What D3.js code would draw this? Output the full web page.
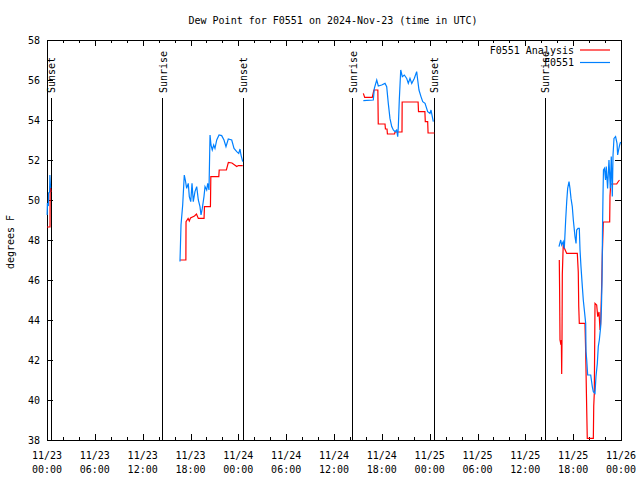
<!DOCTYPE html>
<html><head><meta charset="utf-8">
<script src="https://cdn.jsdelivr.net/npm/d3@7"></script>
<style>body{margin:0;background:#fff}svg text{font-family:"DejaVu Sans Mono",monospace;font-size:10px;fill:#000}</style>
</head><body><svg id="c" width="640" height="480"></svg>
<script>
const titleText = "Dew Point for F0551 on 2024-Nov-23 (time in UTC)";
const yLabel = "degrees F";
const seriesNames = ["F0551 Analysis", "F0551"];
const seriesColors = ["#ff0000", "#0080ff"];
// x tick labels every 6 hours (hours since 2024-11-23 00:00 UTC)
const xTickHours = [0,6,12,18,24,30,36,42,48,54,60,66,72];
const xTickDates = ["11/23","11/23","11/23","11/23","11/24","11/24","11/24","11/24","11/25","11/25","11/25","11/25","11/26"];
const xTickTimes = ["00:00","06:00","12:00","18:00","00:00","06:00","12:00","18:00","00:00","06:00","12:00","18:00","00:00"];
const yTicks = [38,40,42,44,46,48,50,52,54,56,58];
// sun events (hours)
const sunHours = [0.56, 14.55, 24.59, 38.38, 48.55, 62.47];
const sunNames = ["Sunset","Sunrise","Sunset","Sunrise","Sunset","Sunrise"];

// Analysis (red) : hours / values, null = gap
const anaHours = [0,0.38,0.4,0.5, null,
 16.68,17.42,17.44,17.7,17.85,18.0,18.5,18.75,18.98,19.7,19.75,20.5,20.55,21.55,21.6,22.5,22.75,23.2,23.8,24.0,24.55, null,
 39.68,39.85,40.8,41.0,41.5,41.55,42.4,42.45,42.65,42.7,43.6,43.65,44.53,44.55,46.55,46.6,47.4,47.45,47.75,47.8,48.6, null,
 64.26,64.3,64.35,64.47,64.52,64.56,64.6,64.64,64.76,64.89,65.19,66.52,66.64,66.7,66.77,67.48,67.57,67.7,67.77,68.53,68.58,68.65,68.74,68.95,69.08,69.24,69.37,69.45,69.58,69.65,69.78,70.58,70.62,70.71,71.46,71.62,71.81];
const anaValues = [48.65,48.65,50.7,50.4, null,
 47.0,47.0,48.92,49.08,48.95,49.1,49.2,49.3,49.08,49.08,49.67,49.67,51.17,51.17,51.5,51.5,51.88,51.85,51.67,51.72,51.72, null,
 55.33,55.13,55.13,55.5,55.5,53.8,53.8,53.55,53.55,53.3,53.3,53.4,53.4,54.9,54.9,54.42,54.42,53.92,53.92,53.35,53.35, null,
 47.0,45.5,43.0,42.75,43.0,41.3,43.0,46.3,47.83,47.6,47.33,47.33,46.4,44.67,43.83,43.83,42.4,39.5,38.08,38.08,39.7,40.33,44.83,44.75,44.17,44.4,43.5,43.83,45.8,47.17,48.9,48.9,50.2,50.8,50.8,50.9,51.0];

// Observations (blue)
const obsHours = [0.02,0.05,0.17,0.2,0.33,0.36,0.45, null,
 16.68,16.81,17.02,17.22,17.35,17.52,17.72,17.85,18.03,18.19,18.35,18.56,18.78,18.98,19.19,19.32,19.48,19.69,19.82,20.03,20.16,20.32,20.45,20.57,20.73,20.91,21.07,21.29,21.58,21.91,22.2,22.45,22.74,23.17,23.46,23.8,24.05,24.21,24.33,24.55, null,
 39.68,40.93,41.06,41.36,41.56,41.98,42.4,42.61,42.81,43.02,43.24,43.44,43.65,43.86,43.99,44.07,44.19,44.37,44.57,44.82,45.12,45.32,45.53,45.75,46.07,46.37,46.5,46.66,46.91,47.13,47.42,47.75,48.04,48.17,48.33,48.46, null,
 64.22,64.44,64.56,64.76,64.89,65.06,65.19,65.31,65.48,65.6,65.73,65.89,66.02,66.23,66.36,66.44,66.61,66.77,66.86,66.98,67.15,67.27,67.4,67.57,67.61,67.7,67.82,68.2,68.4,68.53,68.74,68.86,69.03,69.15,69.28,69.45,69.55,69.62,69.68,69.74,69.8,69.93,70.06,70.15,70.32,70.49,70.66,70.78,70.91,71.0,71.12,71.32,71.5,71.58,71.7,71.83,71.95];
const obsValues = [49.25,49.85,49.7,50.35,50.4,51.25,50.6, null,
 46.92,48.75,49.75,51.25,51.0,50.58,50.83,50.17,49.92,50.83,49.92,50.42,50.67,50.0,49.67,49.25,49.58,50.17,50.67,50.5,50.83,50.5,53.25,52.75,52.5,52.75,52.58,53.0,53.25,53.22,53.0,52.67,53.05,53.0,52.58,52.42,52.33,52.55,52.25,51.92, null,
 54.97,55.0,55.58,56.0,55.7,55.75,55.83,55.67,54.83,54.08,53.67,53.5,53.42,53.5,53.17,53.67,55.0,56.5,56.17,56.25,56.08,55.83,56.08,55.83,56.08,56.42,56.0,55.5,55.17,54.92,54.83,54.42,54.33,54.5,54.17,53.92, null,
 47.67,48.0,47.75,47.92,47.58,49.0,49.92,50.58,50.92,50.58,50.08,49.67,49.0,48.17,47.83,48.5,48.58,48.58,47.5,46.67,45.67,45.0,44.5,43.83,42.42,42.0,41.25,41.25,40.67,40.42,40.33,41.17,41.83,42.67,43.0,43.67,44.67,46.0,48.5,50.17,51.5,51.58,51.0,51.67,50.58,52.0,50.58,52.17,50.17,52.25,53.08,53.17,52.83,52.25,52.5,52.75,52.9];

const L = 47, R = 621, T = 40, B = 440;
const svg = d3.select("#c");
svg.append("rect").attr("width",640).attr("height",480).attr("fill","#fff");
const x = d3.scaleLinear().domain([0,72]).range([L,R]);
const y = d3.scaleLinear().domain([38,58]).range([B,T]);

// title
svg.append("text").attr("x",333).attr("y",24).attr("text-anchor","middle").text(titleText);
// y label
svg.append("text").attr("transform","translate(14,242) rotate(-90)").attr("text-anchor","middle").text(yLabel);

// axes ticks (inward, mirrored)
const minorHours = d3.range(0,73,2).filter(h => h % 6 !== 0);
const axB = d3.axisBottom(x).tickValues(xTickHours).tickSize(-6).tickFormat("");
const axT = d3.axisTop(x).tickValues(xTickHours).tickSize(-6).tickFormat("");
const axBm = d3.axisBottom(x).tickValues(minorHours).tickSize(-3).tickFormat("");
const axTm = d3.axisTop(x).tickValues(minorHours).tickSize(-3).tickFormat("");
const axL = d3.axisLeft(y).tickValues(yTicks).tickSize(-6).tickFormat("");
const axR = d3.axisRight(y).tickValues(yTicks).tickSize(-6).tickFormat("");
[[axB,`translate(0,${B})`],[axT,`translate(0,${T})`],[axBm,`translate(0,${B})`],[axTm,`translate(0,${T})`],[axL,`translate(${L},0)`],[axR,`translate(${R},0)`]].forEach(([a,t])=>{
  const g = svg.append("g").attr("transform",t).call(a);
  g.select(".domain").remove();
  g.selectAll("line").attr("stroke","#000").attr("shape-rendering","crispEdges");
});
svg.append("rect").attr("x",L).attr("y",T).attr("width",R-L).attr("height",B-T)
  .attr("fill","none").attr("stroke","#000").attr("shape-rendering","crispEdges");

// tick labels
const xl = svg.append("g");
xTickHours.forEach((h,i)=>{
  xl.append("text").attr("x",x(h)).attr("y",459).attr("text-anchor","middle").text(xTickDates[i]);
  xl.append("text").attr("x",x(h)).attr("y",473).attr("text-anchor","middle").text(xTickTimes[i]);
});
yTicks.forEach(v=>{
  svg.append("text").attr("x",40).attr("y",y(v)+3.5).attr("text-anchor","end").text(v);
});

// sun lines
sunHours.forEach((h,i)=>{
  svg.append("line").attr("x1",x(h)).attr("x2",x(h)).attr("y1",98).attr("y2",B)
    .attr("stroke","#000").attr("shape-rendering","crispEdges");
  svg.append("text").attr("transform",`translate(${x(h)+4},93) rotate(-90)`).text(sunNames[i]);
});

// series
const line = d3.line().defined(d=>d[1]!=null).x(d=>x(d[0])).y(d=>y(d[1]));
const ana = anaHours.map((h,i)=>[h,anaValues[i]]);
const obs = obsHours.map((h,i)=>[h,obsValues[i]]);
svg.append("path").datum(ana).attr("d",line).attr("fill","none").attr("stroke",seriesColors[0]).attr("stroke-width",1.2);
svg.append("path").datum(obs).attr("d",line).attr("fill","none").attr("stroke",seriesColors[1]).attr("stroke-width",1.2);

// legend
const legY = [50,62.5];
seriesNames.forEach((n,i)=>{
  svg.append("text").attr("x",574).attr("y",legY[i]+3.5).attr("text-anchor","end").text(n);
  svg.append("line").attr("x1",580).attr("x2",610).attr("y1",legY[i]).attr("y2",legY[i])
    .attr("stroke",seriesColors[i]).attr("stroke-width",1.2);
});
</script></body></html>
